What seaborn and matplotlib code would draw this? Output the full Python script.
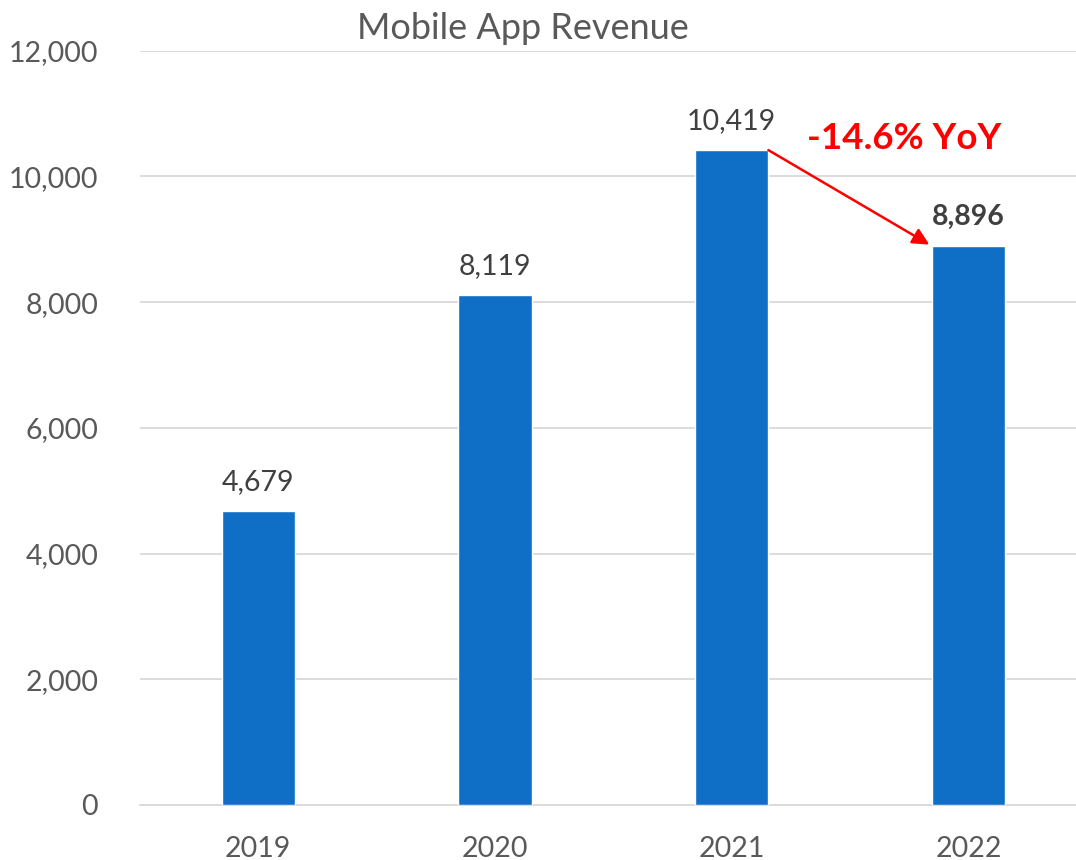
import pandas as pd
import matplotlib.pyplot as plt
import seaborn as sns

# valores
anos = ["2019", "2020", "2021", "2022"]
receita = [4679, 8119, 10419, 8896]
ticks_y = [0, 2000, 4000, 6000, 8000, 10000, 12000]
texto_yoy = "-14.6% YoY"

df = pd.DataFrame({"ano": anos, "receita": receita})

sns.set_style("white")
plt.rcParams["font.family"] = ["Lato", "DejaVu Sans"]

fig = plt.figure(figsize=(10.76, 8.6), dpi=100)
ax = fig.add_axes([0.130, 0.064, 0.880, 0.877])

sns.barplot(data=df, x="ano", y="receita", color="#0F6FC6", width=0.31,
            saturation=1, ax=ax, zorder=3)

ax.set_ylim(0, 12000)
ax.set_xlim(-0.5, 3.5)
ax.set_yticks(ticks_y)
ax.set_yticklabels([f"{t:,}" for t in ticks_y])
ax.yaxis.grid(True, color="#D9D9D9", linewidth=1.3, zorder=0)
ax.set_axisbelow(True)
for s in ["top", "right", "left"]:
    ax.spines[s].set_visible(False)
ax.spines["bottom"].set_color("#D9D9D9")
ax.spines["bottom"].set_linewidth(1.3)
ax.tick_params(axis="both", length=0, labelsize=20.5, labelcolor="#595959")
ax.tick_params(axis="y", pad=30)
ax.tick_params(axis="x", pad=22)
ax.set_xlabel("")
ax.set_ylabel("")

# rótulos das barras
for i, v in enumerate(receita):
    peso = "bold" if i == len(receita) - 1 else "normal"
    ax.text(i, v + 250, f"{v:,}", ha="center", va="bottom", fontsize=20.5,
            color="#404040", fontweight=peso)

# seta de variação anual
ax.annotate("", xy=(3 - 0.165, receita[3] + 20), xytext=(2 + 0.155, receita[2]),
            arrowprops=dict(arrowstyle="-|>", color="#FF0000", lw=1.8,
                            mutation_scale=25, shrinkA=0, shrinkB=0))
ax.text(2.73, 10600, texto_yoy, ha="center", va="center", fontsize=26.5,
        color="#FF0000", fontweight="bold")

fig.text(0.486, 0.967, "Mobile App Revenue", ha="center", va="center",
         fontsize=26, color="#595959")

fig.savefig("out.png", dpi=100)
